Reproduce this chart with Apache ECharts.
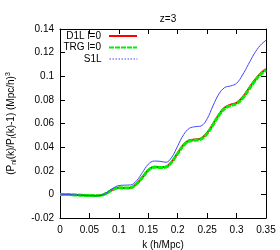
<!DOCTYPE html>
<html><head><meta charset="utf-8">
<script src="https://cdn.jsdelivr.net/npm/echarts@6/dist/echarts.min.js"></script>
<style>html,body{margin:0;padding:0;background:#fff}#c{width:280px;height:250px}</style>
</head><body><div id="c"></div>
<script>
var kValues = [0,0.01,0.02,0.03,0.04,0.05,0.06,0.07,0.08,0.09,0.10,0.11,0.12,0.13,0.14,0.15,0.16,0.17,0.18,0.19,0.20,0.21,0.22,0.23,0.24,0.25,0.26,0.27,0.28,0.29,0.30,0.31,0.32,0.33,0.34,0.35];
var d1l = [0,0,-0.0003,-0.0006,-0.0008,-0.001,-0.0011,-0.0008,0.0013,0.0042,0.0057,0.0054,0.0057,0.0089,0.0145,0.0205,0.0233,0.0230,0.0234,0.0278,0.0350,0.0420,0.0458,0.0465,0.0475,0.0520,0.0595,0.0675,0.0735,0.0760,0.0775,0.0820,0.0890,0.0960,0.1020,0.1060];
var trg = [0,0,-0.0003,-0.0006,-0.0008,-0.001,-0.0011,-0.0008,0.0012,0.0041,0.0056,0.0053,0.0056,0.0088,0.0143,0.0203,0.0230,0.0227,0.0231,0.0275,0.0346,0.0415,0.0452,0.0459,0.0469,0.0514,0.0589,0.0669,0.0728,0.0752,0.0767,0.0812,0.0882,0.0952,0.1012,0.1052];
var s1l = [0,0,-0.0003,-0.0006,-0.0008,-0.001,-0.0011,-0.0008,0.0018,0.0052,0.0075,0.0078,0.0080,0.0115,0.0185,0.0255,0.0282,0.0280,0.0272,0.0315,0.0410,0.0505,0.0560,0.0573,0.0580,0.0640,0.0750,0.0850,0.0905,0.0918,0.0940,0.1010,0.1100,0.1190,0.1260,0.1305];
var xTicks = [0,0.05,0.1,0.15,0.2,0.25,0.3,0.35];
var yTicks = [-0.02,0,0.02,0.04,0.06,0.08,0.1,0.12,0.14];

function pairs(ys){ return kValues.map(function(k,i){return [k, ys[i]];}); }
var FONT = 'Liberation Sans';
var FS = 10;
var chart = echarts.init(document.getElementById('c'));
var axisCommon = {
  axisLine:{show:true,onZero:false,lineStyle:{color:'#000',width:1}},
  axisTick:{show:true,inside:true,length:5,lineStyle:{color:'#000'}},
  splitLine:{show:false}
};
function legend(name, right, top, extra){
  var l = {data:[{name:name, itemStyle:{opacity:0}}], right:right, top:top, align:'right', itemWidth:28, itemHeight:8,
    padding:0, itemStyle:{opacity:0},
    textStyle:{fontFamily:FONT,fontSize:FS,color:'#000',padding:[0,3,0,0]}, selectedMode:false};
  if (extra) l.lineStyle = extra;
  return l;
}
chart.setOption({
  animation:false,
  title:{text:'z=3', left:163, top:9, textAlign:'center', textStyle:{fontFamily:FONT,fontSize:FS,fontWeight:'normal',color:'#000'}},
  grid:{left:60, right:14, top:29, bottom:32, outerBoundsMode:'none', containLabel:false},
  legend:[
    legend('D1L l=0', 142, 31),
    legend('TRG l=0', 142, 42.5),
    legend('S1L', 142, 54, {type:[1.5,1.5], width:1})
  ],
  xAxis:[
    Object.assign({type:'value', min:0, max:0.35, interval:0.05, position:'bottom',
      name:'k (h/Mpc)', nameLocation:'middle', nameGap:20,
      nameTextStyle:{fontFamily:FONT,fontSize:FS,color:'#000'},
      axisLabel:{fontFamily:FONT,fontSize:FS,color:'#000',margin:7,
        formatter:function(v){return String(Math.round(v*100)/100);}}}, axisCommon),
    Object.assign({type:'value', min:0, max:0.35, interval:0.05, position:'top', axisLabel:{show:false}}, axisCommon)
  ],
  yAxis:[
    Object.assign({type:'value', min:-0.02, max:0.14, interval:0.02, position:'left',
      name:'{a|(P}{s|nl}{a|(k)/P}{s|l}{a|(k)-1) (Mpc/h)}{p|3}', nameLocation:'middle', nameGap:42,
      nameTextStyle:{fontFamily:FONT,fontSize:FS,color:'#000',
        rich:{a:{fontFamily:FONT,fontSize:FS,color:'#000'},
              s:{fontFamily:FONT,fontSize:7,color:'#000',verticalAlign:'bottom',padding:[6,0,0,0]},
              p:{fontFamily:FONT,fontSize:7,color:'#000',verticalAlign:'top',padding:[0,0,6,0]}}},
      axisLabel:{fontFamily:FONT,fontSize:FS,color:'#000',margin:6,
        formatter:function(v){return String(Math.round(v*100)/100);}}}, axisCommon),
    Object.assign({type:'value', min:-0.02, max:0.14, interval:0.02, position:'right', axisLabel:{show:false}}, axisCommon)
  ],
  series:[
    {name:'D1L l=0', type:'line', data:pairs(d1l), smooth:0.4, symbol:'none',
      lineStyle:{color:'#ff0000', width:2}, itemStyle:{color:'#ff0000'}},
    {name:'TRG l=0', type:'line', data:pairs(trg), smooth:0.4, symbol:'none',
      lineStyle:{color:'#00ee00', width:3, type:[5,1]}, itemStyle:{color:'#00ee00'}},
    {name:'S1L', type:'line', data:pairs(s1l), smooth:0.4, symbol:'none',
      lineStyle:{color:'#4444ff', width:1}, itemStyle:{color:'#4444ff'}}
  ]
});
</script></body></html>
